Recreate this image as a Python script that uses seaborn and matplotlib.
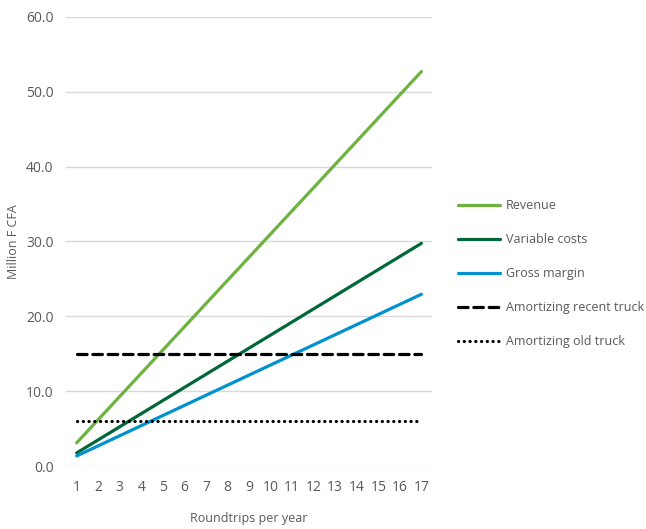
import matplotlib
matplotlib.use("Agg")
import matplotlib.pyplot as plt
import seaborn as sns
import pandas as pd

trips = list(range(1, 18))
revenue = [3.1, 6.2, 9.3, 12.4, 15.5, 18.6, 21.7, 24.8, 27.9, 31.0, 34.1, 37.2, 40.3, 43.4, 46.5, 49.6, 52.7]
variable_costs = [1.75, 3.5, 5.25, 7.0, 8.75, 10.5, 12.25, 14.0, 15.75, 17.5, 19.25, 21.0, 22.75, 24.5, 26.25, 28.0, 29.75]
gross_margin = [1.35, 2.7, 4.05, 5.4, 6.75, 8.1, 9.45, 10.8, 12.15, 13.5, 14.85, 16.2, 17.55, 18.9, 20.25, 21.6, 22.95]
recent_truck = [15.0] * 17
old_truck = [6.0] * 17

series_names = ["Revenue", "Variable costs", "Gross margin",
                "Amortizing recent truck", "Amortizing old truck"]
series_values = [revenue, variable_costs, gross_margin, recent_truck, old_truck]
colors = ["#6DB33F", "#006838", "#0092CF", "#000000", "#000000"]

rows = []
for name, vals in zip(series_names, series_values):
    for t, v in zip(trips, vals):
        rows.append({"Roundtrips": t, "Value": v, "Series": name})
df = pd.DataFrame(rows)

sns.set_style("white")
plt.rcParams['font.family'] = ['Open Sans', 'DejaVu Sans']

fig = plt.figure(figsize=(6.46, 5.29), dpi=100)
ax = fig.add_axes([0.102, 0.119, 0.567, 0.849])

palette = dict(zip(series_names, colors))
dashes = {
    "Revenue": "",
    "Variable costs": "",
    "Gross margin": "",
    "Amortizing recent truck": (3.0, 1.8),
    "Amortizing old truck": (0.05, 1.75),
}
sns.lineplot(data=df, x="Roundtrips", y="Value", hue="Series", style="Series",
             palette=palette, dashes=dashes, linewidth=2.3, ax=ax, legend=True,
             hue_order=series_names, style_order=series_names)
for ln in ax.get_lines():
    ln.set_solid_capstyle("round")
    ln.set_dash_capstyle("round")

ax.set_xlim(0.5, 17.5)
ax.set_ylim(0, 60)
ax.set_yticks([0, 10, 20, 30, 40, 50, 60])
ax.set_yticklabels([f"{v:.1f}" for v in [0, 10, 20, 30, 40, 50, 60]])
ax.set_xticks(trips)
ax.set_xticklabels([str(t) for t in trips])
ax.grid(axis="y", color="#D9D9D9", linewidth=1)
ax.set_axisbelow(True)
for s in ax.spines.values():
    s.set_visible(False)
ax.tick_params(axis="both", length=0, labelsize=10, colors="#595959")
ax.tick_params(axis="x", pad=10)
ax.tick_params(axis="y", pad=9)
ax.set_xlabel("Roundtrips per year", fontsize=9, color="#595959", labelpad=12)
ax.set_ylabel("Million F CFA", fontsize=9, color="#595959", labelpad=4)

handles, labels = ax.get_legend_handles_labels()
ax.get_legend().remove()
for h in handles:
    h.set_dash_capstyle("round")
    h.set_solid_capstyle("round")
fig.legend(handles, labels, loc="upper left", bbox_to_anchor=(0.692, 0.645),
           frameon=False, fontsize=9, handlelength=3.3, handletextpad=0.5,
           labelspacing=1.68, labelcolor="#595959")

fig.savefig("out.png", dpi=100)
